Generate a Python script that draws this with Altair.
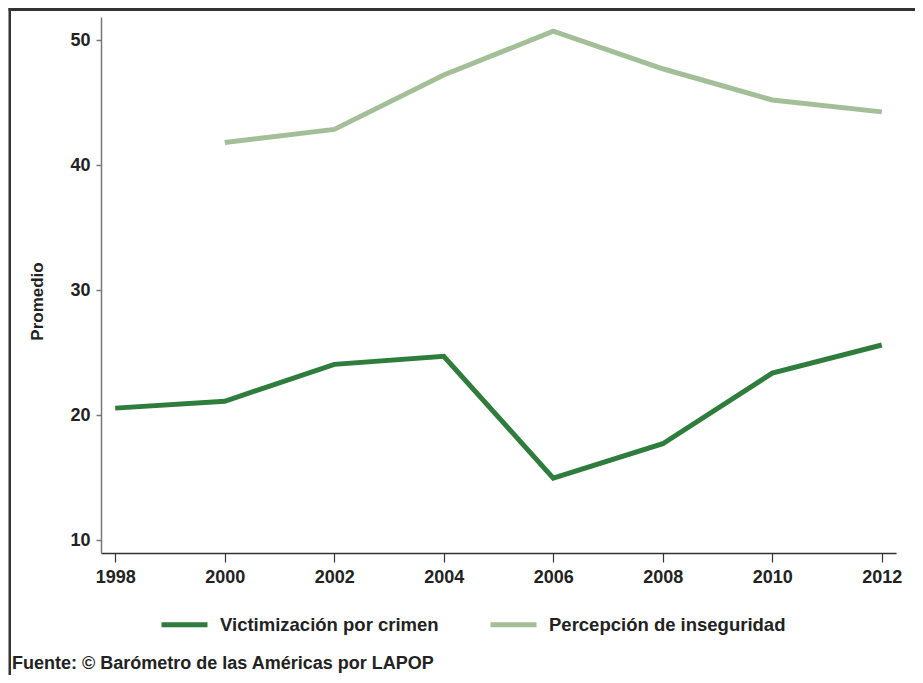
import altair as alt
import pandas as pd

years = [1998, 2000, 2002, 2004, 2006, 2008, 2010, 2012]
victimizacion = [20.55, 21.1, 24.05, 24.7, 14.95, 17.7, 23.35, 25.6]
percepcion_years = [2000, 2002, 2004, 2006, 2008, 2010, 2012]
percepcion = [41.8, 42.85, 47.2, 50.7, 47.7, 45.2, 44.25]

series_names = ["Victimización por crimen", "Percepción de inseguridad"]
series_colors = ["#2e7d3c", "#a3bf98"]
x_ticks = [1998, 2000, 2002, 2004, 2006, 2008, 2010, 2012]
y_ticks = [10, 20, 30, 40, 50]
source_text = "Fuente: © Barómetro de las Américas por LAPOP"

rows = []
for y, v in zip(years, victimizacion):
    rows.append({"year": y, "value": v, "series": series_names[0]})
for y, v in zip(percepcion_years, percepcion):
    rows.append({"year": y, "value": v, "series": series_names[1]})
df = pd.DataFrame(rows)

FONT = "Liberation Sans"
W, H = 795, 536

lines = alt.Chart(df).mark_line(strokeWidth=5, clip=False).encode(
    x=alt.X("year:Q",
            scale=alt.Scale(domain=[1997.74, 2012.26], nice=False, zero=False),
            axis=alt.Axis(values=x_ticks, format="d", title=None, grid=False,
                          tickSize=9, labelPadding=6, labelFontSize=18,
                          labelFontWeight="bold", labelColor="#222",
                          domainColor="#333", tickColor="#333",
                          domainWidth=1.5, tickWidth=1.2, labelFont=FONT)),
    y=alt.Y("value:Q",
            scale=alt.Scale(domain=[8.96, 51.84], nice=False, zero=False),
            axis=alt.Axis(values=y_ticks, title="Promedio", grid=False,
                          tickSize=5, labelPadding=6, labelFontSize=18,
                          labelFontWeight="bold", labelColor="#222",
                          domainColor="#777", tickColor="#777",
                          domainWidth=1.5, tickWidth=1.5, labelFont=FONT,
                          titleFont=FONT, titleFontSize=17, titleFontWeight="bold",
                          titleColor="#222", titleX=-64, titleY=284,
                          titleAngle=-90, titleAlign="center", titleBaseline="middle")),
    color=alt.Color("series:N",
                    scale=alt.Scale(domain=series_names, range=series_colors),
                    legend=alt.Legend(title=None, orient="none", direction="horizontal",
                                      legendX=58, legendY=582, columns=2,
                                      symbolType="stroke", symbolSize=2116,
                                      symbolStrokeWidth=5, labelOffset=10,
                                      columnPadding=41, labelFontSize=18.5,
                                      labelFontWeight="bold", labelColor="#222",
                                      labelFont=FONT, labelLimit=400)),
)

frame_df = pd.DataFrame({"k": [0]})
top_band = alt.Chart(frame_df).mark_rect(color="#333", clip=False).encode(
    x=alt.value(-92.5), x2=alt.value(814), y=alt.value(-9), y2=alt.value(-6))
left_band = alt.Chart(frame_df).mark_rect(color="#333", clip=False).encode(
    x=alt.value(-92.5), x2=alt.value(-90), y=alt.value(-9), y2=alt.value(660))

src = alt.Chart(pd.DataFrame({"t": [source_text]})).mark_text(
    align="left", baseline="middle", font=FONT, fontSize=18, fontWeight="bold",
    color="#222").encode(text="t:N", x=alt.value(-89), y=alt.value(647))

chart = alt.layer(top_band, left_band, lines, src).properties(
    width=W, height=H,
    autosize=alt.AutoSizeParams(type="none"),
    padding={"left": 93, "top": 9, "right": 19, "bottom": 122},
).configure_view(stroke=None)

chart.save("out.html", embed_options={"renderer": "svg", "actions": False})
